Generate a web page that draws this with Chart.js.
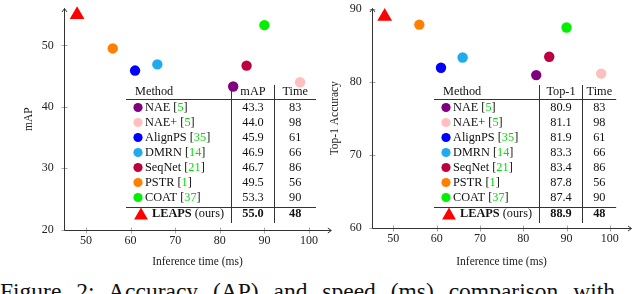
<!DOCTYPE html>
<html>
<head>
<meta charset="utf-8">
<script src="https://cdn.jsdelivr.net/npm/chart.js@4.4.1/dist/chart.umd.min.js"></script>
<style>
  html, body { margin: 0; padding: 0; background: #fff; width: 640px; height: 294px; overflow: hidden; }
  #wrapL { position: absolute; left: 0; top: 0; }
  #wrapR { position: absolute; left: 320px; top: 0; }
  #caption {
    position: absolute; left: 0; top: 280px;
    font-family: 'Liberation Serif', 'Times New Roman', serif;
    font-size: 23.5px; line-height: 23.5px; white-space: nowrap;
    word-spacing: 9px; color: #111;
  }
</style>
</head>
<body>
<div id="wrapL"><canvas id="chartMap" width="340" height="270"></canvas></div>
<div id="wrapR"><canvas id="chartTop1" width="320" height="270"></canvas></div>
<div id="caption">Figure 2: Accuracy (AP) and speed (ms) comparison with</div>

<script>
/* ── data ── */
var methods   = ['NAE', 'NAE+', 'AlignPS', 'DMRN', 'SeqNet', 'PSTR', 'COAT', 'LEAPS'];
var citations = ['5', '5', '35', '14', '21', '1', '37', ''];
var times     = [83, 98, 61, 66, 86, 56, 90, 48];
var mapVals   = [43.3, 44.0, 45.9, 46.9, 46.7, 49.5, 53.3, 55.0];
var top1Vals  = [80.9, 81.1, 81.9, 83.3, 83.4, 87.8, 87.4, 88.9];
var colors    = ['#800080', '#ffbfbf', '#0000ff', '#22aaee', '#bf0040', '#ff8000', '#00f000', '#ff0000'];

var timeTicks = [50, 60, 70, 80, 90, 100];
var mapTicks  = [20, 30, 40, 50];
var top1Ticks = [60, 70, 80, 90];

var SERIF = "'Liberation Serif', 'Times New Roman', serif";
var tableFont = '12.3px ' + SERIF;
var tableBold = 'bold 12.3px ' + SERIF;

/* ── axis lines with arrow heads + centred tick marks ── */
var axisLines = {
    id: 'axisLines',
    beforeDatasetsDraw: function (chart) {
        var ctx = chart.ctx, a = chart.chartArea;
        var xs = chart.scales.x, ys = chart.scales.y;
        var bx = Math.round(a.left) + 0.5, by = Math.round(a.bottom) + 0.5;
        ctx.save();
        ctx.lineWidth = 1;
        ctx.strokeStyle = '#a8a8a8';
        ctx.beginPath();
        xs.ticks.forEach(function (t) {
            var px = Math.round(xs.getPixelForValue(t.value)) + 0.5;
            ctx.moveTo(px, by - 3); ctx.lineTo(px, by + 3);
        });
        ys.ticks.forEach(function (t) {
            var py = Math.round(ys.getPixelForValue(t.value)) + 0.5;
            ctx.moveTo(bx - 3, py); ctx.lineTo(bx + 3, py);
        });
        ctx.stroke();

        ctx.strokeStyle = '#333';
        ctx.beginPath();
        ctx.moveTo(bx, by); ctx.lineTo(bx, a.top);
        ctx.moveTo(bx, by); ctx.lineTo(a.right, by);
        // arrow heads
        ctx.moveTo(bx - 2.5, a.top + 3.5); ctx.lineTo(bx, a.top); ctx.lineTo(bx + 2.5, a.top + 3.5);
        ctx.moveTo(a.right - 3.5, by - 2.5); ctx.lineTo(a.right, by); ctx.lineTo(a.right - 3.5, by + 2.5);
        ctx.stroke();
        ctx.restore();
    }
};

/* ── embedded results table ── */
var scoreTable = {
    id: 'scoreTable',
    afterDatasetsDraw: function (chart, args, opts) {
        var ctx = chart.ctx, a = chart.chartArea;
        var x0 = a.left + 62.3, x1 = a.right - 15.3;
        var c1 = Math.round(a.left + 167.3) + 0.5, c2 = Math.round(a.left + 210.3) + 0.5;
        var mid1 = (c1 + c2) / 2, mid2 = (c2 + x1) / 2;

        ctx.save();
        ctx.strokeStyle = '#333';
        ctx.lineWidth = 1;
        ctx.beginPath();
        ctx.moveTo(x0, 99.5); ctx.lineTo(x1, 99.5);
        ctx.moveTo(x0, 207.5); ctx.lineTo(x1, 207.5);
        ctx.moveTo(c1, 85); ctx.lineTo(c1, 223);
        ctx.moveTo(c2, 85); ctx.lineTo(c2, 223);
        ctx.stroke();

        ctx.textBaseline = 'middle';
        ctx.fillStyle = '#111';
        ctx.font = tableFont;
        ctx.textAlign = 'left';
        ctx.fillText('Method', x0 + 9, 91.5);
        ctx.textAlign = 'center';
        ctx.fillText(opts.head, mid1, 91.5);
        ctx.fillText('Time', mid2, 91.5);

        methods.forEach(function (m, i) {
            var last = i === methods.length - 1;
            var ry = last ? 214 : 107.5 + 15 * i;
            ctx.fillStyle = colors[i];
            ctx.beginPath();
            if (last) {
                var cx = x0 + 15, cy = ry + 1.5, r = 8;
                ctx.moveTo(cx, cy - r);
                ctx.lineTo(cx + r * 0.866, cy + r / 2);
                ctx.lineTo(cx - r * 0.866, cy + r / 2);
                ctx.closePath();
            } else {
                ctx.arc(x0 + 12, ry, 4.6, 0, Math.PI * 2);
            }
            ctx.fill();

            ctx.fillStyle = '#111';
            ctx.textAlign = 'left';
            var tx;
            if (last) {
                tx = x0 + 26;
                ctx.font = tableBold;
                ctx.fillText(m, tx, ry);
                tx += ctx.measureText(m).width;
                ctx.font = tableFont;
                ctx.fillText(' (ours)', tx, ry);
            } else {
                tx = x0 + 19;
                ctx.font = tableFont;
                ctx.fillText(m + ' [', tx, ry);
                tx += ctx.measureText(m + ' [').width;
                ctx.fillStyle = '#00dd00';
                ctx.fillText(citations[i], tx, ry);
                tx += ctx.measureText(citations[i]).width;
                ctx.fillStyle = '#111';
                ctx.fillText(']', tx, ry);
            }
            ctx.font = last ? tableBold : tableFont;
            ctx.textAlign = 'center';
            ctx.fillText(opts.values[i].toFixed(1), mid1, ry);
            ctx.fillText(String(times[i]), mid2, ry);
        });
        ctx.restore();
    }
};

function buildDatasets(vals) {
    return methods.map(function (m, i) {
        var tri = i === methods.length - 1;
        return {
            label: m,
            data: [{ x: times[i], y: vals[i] }],
            backgroundColor: colors[i],
            pointBackgroundColor: colors[i],
            pointStyle: tri ? 'triangle' : 'circle',
            pointRadius: tri ? 8.5 : 5.2,
            pointHoverRadius: tri ? 8.5 : 5.2,
            pointBorderWidth: 0,
            borderWidth: 0,
            clip: false
        };
    });
}

function buildChart(canvasId, cfg) {
    var ctx = document.getElementById(canvasId).getContext('2d');
    return new Chart(ctx, {
        type: 'scatter',
        data: { datasets: buildDatasets(cfg.values) },
        options: {
            responsive: false,
            animation: false,
            devicePixelRatio: 1,
            layout: { padding: cfg.padding },
            plugins: {
                legend: { display: false },
                tooltip: { enabled: false },
                scoreTable: { head: cfg.head, values: cfg.values }
            },
            scales: {
                x: {
                    type: 'linear', min: 45, max: 105,
                    grid: { display: false, drawTicks: false },
                    border: { display: false },
                    afterBuildTicks: function (s) { s.ticks = timeTicks.map(function (v) { return { value: v }; }); },
                    afterFit: function (s) { s.height = cfg.xHeight; s.paddingLeft = 0; s.paddingRight = 0; },
                    ticks: { font: { family: SERIF, size: 12 }, color: '#222', padding: 4, maxRotation: 0, autoSkip: false },
                    title: { display: true, text: 'Inference time (ms)', color: '#222',
                             font: { family: SERIF, size: 11.5 }, padding: { top: 0, bottom: 1 } }
                },
                y: {
                    type: 'linear', min: cfg.yMin, max: cfg.yMax,
                    grid: { display: false, drawTicks: false },
                    border: { display: false },
                    afterBuildTicks: function (s) { s.ticks = cfg.yTicks.map(function (v) { return { value: v }; }); },
                    afterFit: function (s) { s.width = cfg.yWidth; s.paddingTop = 0; s.paddingBottom = 0; },
                    ticks: { font: { family: SERIF, size: 12 }, color: '#222', padding: 10 },
                    title: { display: true, text: cfg.yTitle, color: '#222',
                             font: { family: SERIF, size: 11.5 }, padding: { top: cfg.yTitlePad, bottom: 0 } }
                }
            }
        },
        plugins: [axisLines, scoreTable]
    });
}

buildChart('chartMap', {
    values: mapVals, head: 'mAP', yMin: 20, yMax: 56, yTicks: mapTicks, yTitle: 'mAP',
    yWidth: 63.7, yTitlePad: 22, xHeight: 40.3,
    padding: { top: 6.5, right: 8.7, left: 0, bottom: 0 }
});

buildChart('chartTop1', {
    values: top1Vals, head: 'Top-1', yMin: 60, yMax: 90, yTicks: top1Ticks, yTitle: 'Top-1 Accuracy',
    yWidth: 51.7, yTitlePad: 8, xHeight: 42,
    padding: { top: 6, right: 0.7, left: 0, bottom: 0 }
});
</script>
</body>
</html>
